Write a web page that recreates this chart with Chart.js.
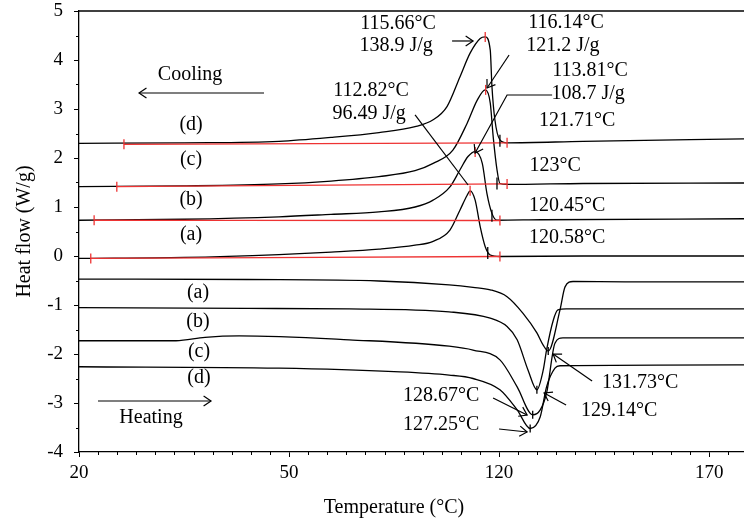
<!DOCTYPE html>
<html>
<head>
<meta charset="utf-8">
<script src="https://cdn.jsdelivr.net/npm/chart.js@4.4.1/dist/chart.umd.min.js"></script>
<style>
  body { margin: 0; background: #fff; }
</style>
</head>
<body>
<canvas id="dscChart" width="744" height="523"></canvas>
<script>
// [temperature °C, heat flow W/g]
const coolingA = [[20,-0.05],[45,-0.03],[67.6,0.03],[80,0.08],[91.4,0.14],[100,0.22],[104.3,0.30],[108.3,0.53],[110.7,0.94],[112.4,1.24],[113.1,1.33],[114.3,1.14],[115.5,0.60],[116.7,0.19],[117.9,0.02],[120.2,-0.01],[140,0.0],[178.3,0.0]];
const coolingB = [[20,0.73],[45,0.75],[67.6,0.80],[80,0.85],[91.4,0.90],[100,1.0],[104.3,1.14],[108.3,1.41],[110.7,1.76],[112.6,2.03],[114.3,2.13],[116.0,1.89],[117.1,1.28],[118.3,0.87],[119.5,0.73],[130,0.74],[178.3,0.76]];
const coolingC = [[20,1.415],[45,1.43],[67.6,1.47],[80,1.53],[91.4,1.62],[100,1.74],[104.3,1.89],[109.0,2.16],[112.4,2.71],[114.8,3.18],[116.7,3.39],[117.9,3.12],[118.6,2.43],[119.5,1.76],[120.2,1.48],[121.9,1.46],[140,1.48],[178.3,1.49]];
const coolingD = [[20,2.30],[45,2.31],[67.6,2.34],[80,2.42],[91.4,2.52],[100,2.64],[104.3,2.78],[107.6,3.05],[110.7,3.66],[113.1,4.14],[115.5,4.44],[116.7,4.47],[117.9,4.20],[118.3,3.46],[119.0,2.78],[120.2,2.37],[121.9,2.31],[140,2.34],[178.3,2.39]];

const heatingA = [[20,-0.47],[60,-0.48],[91.4,-0.51],[108.1,-0.59],[113.8,-0.64],[117.9,-0.69],[121.9,-0.83],[125.7,-1.17],[129,-1.57],[130.5,-1.82],[131.7,-1.94],[134.5,-1.10],[135.7,-0.63],[137.6,-0.52],[150,-0.53],[178.3,-0.53]];
const heatingB = [[20,-1.055],[60,-1.07],[84.3,-1.08],[108.1,-1.14],[117.9,-1.27],[121.9,-1.44],[124.3,-1.71],[126.9,-2.33],[129.0,-2.73],[130.5,-2.33],[131.3,-1.92],[132.9,-1.31],[134.0,-1.10],[136,-1.08],[178.3,-1.08]];
const heatingC = [[20,-1.73],[43.1,-1.73],[50,-1.66],[58.1,-1.63],[84.3,-1.71],[108.1,-1.84],[113.8,-1.92],[120.2,-2.12],[124.3,-2.67],[128.0,-3.24],[129.8,-3.14],[131.3,-2.80],[133.3,-1.78],[135.2,-1.67],[178.3,-1.67]];
const heatingD = [[20,-2.26],[67.6,-2.29],[95,-2.36],[108.1,-2.43],[113.8,-2.50],[120.2,-2.73],[124.3,-3.14],[127.4,-3.52],[129.8,-3.28],[131.3,-2.67],[133.3,-2.29],[134.5,-2.24],[178.3,-2.22]];

// integration baselines (red)
const baselineA = [[22.8,-0.05],[120.2,-0.01]];
const baselineB = [[23.6,0.73],[120.2,0.725]];
const baselineC = [[29.0,1.415],[121.9,1.47]];
const baselineD = [[30.7,2.28],[121.9,2.31]];
const peakTicks = [[113.1,1.33],[114.3,2.12],[116.8,3.39],[116.7,4.47]];
const endTicks = [[117.3,0.06],[118.3,0.82],[119.5,1.48],[120.2,2.35]];
const minTicks = [[131.7,-1.94],[129.0,-2.73],[128.0,-3.24],[127.4,-3.52]];

const xTickValues = [20, 70, 120, 170];
const xTickLabels = ['20', '50', '120', '170'];

// annotation texts: [text, T, W/g]
const labels = [
  ['115.66\u00b0C', 95.95, 4.735], ['138.9 J/g', 95.5, 4.286],
  ['116.14\u00b0C', 135.95, 4.755], ['121.2 J/g', 135.2, 4.286],
  ['113.81\u00b0C', 141.67, 3.776], ['108.7 J/g', 141.19, 3.306],
  ['121.71\u00b0C', 138.57, 2.755], ['123\u00b0C', 133.33, 1.837],
  ['120.45\u00b0C', 136.19, 1.02], ['120.58\u00b0C', 136.19, 0.367],
  ['112.82\u00b0C', 89.52, 3.367], ['96.49 J/g', 89.05, 2.898],
  ['Cooling', 46.43, 3.694],
  ['(d)', 46.67, 2.673], ['(c)', 46.67, 1.959], ['(b)', 46.67, 1.143], ['(a)', 46.67, 0.429],
  ['(a)', 48.33, -0.755], ['(b)', 48.33, -1.347], ['(c)', 48.57, -1.959], ['(d)', 48.57, -2.49],
  ['Heating', 37.14, -3.306],
  ['128.67\u00b0C', 106.19, -2.857], ['127.25\u00b0C', 106.19, -3.449],
  ['131.73\u00b0C', 153.57, -2.592], ['129.14\u00b0C', 148.57, -3.163]
];

// pointer lines: list of [T, W/g] vertices, last flag = arrow head at the end
const pointers = [
  [[[108.81,4.388],[113.81,4.388]], true],
  [[[122.38,4.102],[117.14,3.429]], true],
  [[[132.62,3.286],[121.9,3.286],[114.29,2.102]], true],
  [[[100,2.878],[112.62,1.449]], false],
  [[[64.05,3.327],[34.29,3.327]], true],
  [[[24.52,-2.959],[51.43,-2.959]], true],
  [[[118.57,-2.898],[126.67,-3.245]], true],
  [[[120,-3.531],[126.67,-3.592]], true],
  [[[142.14,-2.551],[132.86,-2.0]], true],
  [[[135.95,-3.041],[130.71,-2.796]], true]
];

const serif = '"Liberation Serif", "Times New Roman", serif';

function toXY(pairs) {
  return pairs.map(p => ({ x: p[0], y: p[1] }));
}

function curve(pairs, color, order) {
  return {
    data: toXY(pairs),
    showLine: true,
    borderColor: color,
    borderWidth: 1.3,
    pointRadius: 0,
    cubicInterpolationMode: 'monotone',
    order: order
  };
}

function ticks(pairs, color, radius) {
  return {
    data: toXY(pairs),
    showLine: false,
    pointStyle: 'line',
    rotation: 90,
    pointRadius: radius,
    pointBorderColor: color,
    pointBorderWidth: 1.3,
    order: 0
  };
}

const red = '#ee3333';

const decorations = {
  id: 'decorations',
  afterDraw(chart) {
    const { ctx, chartArea, scales: { x, y } } = chart;
    ctx.save();
    ctx.strokeStyle = '#000';
    ctx.lineWidth = 1;

    // minor ticks
    ctx.beginPath();
    for (let i = 1; 20 + i * 50 / 11 <= x.max; i++) {
      if (i % 11 === 0) continue;
      const px = Math.round(x.getPixelForValue(20 + i * 50 / 11)) + 0.5;
      ctx.moveTo(px, chartArea.bottom);
      ctx.lineTo(px, chartArea.bottom + 3);
    }
    for (let v = -3.5; v < 5; v += 1) {
      const py = Math.round(y.getPixelForValue(v)) + 0.5;
      ctx.moveTo(chartArea.left, py);
      ctx.lineTo(chartArea.left - 3, py);
    }
    ctx.stroke();

    // top frame
    ctx.lineWidth = 1.3;
    ctx.beginPath();
    ctx.moveTo(chartArea.left, chartArea.top);
    ctx.lineTo(chartArea.right, chartArea.top);
    ctx.stroke();

    // pointers
    ctx.lineWidth = 1.2;
    pointers.forEach(([pts, head]) => {
      const p = pts.map(q => [x.getPixelForValue(q[0]), y.getPixelForValue(q[1])]);
      ctx.beginPath();
      ctx.moveTo(p[0][0], p[0][1]);
      p.slice(1).forEach(q => ctx.lineTo(q[0], q[1]));
      ctx.stroke();
      if (head) {
        const a = p[p.length - 2], b = p[p.length - 1];
        const ang = Math.atan2(b[1] - a[1], b[0] - a[0]);
        const len = 9, spread = 0.6;
        ctx.beginPath();
        ctx.moveTo(b[0] - len * Math.cos(ang - spread), b[1] - len * Math.sin(ang - spread));
        ctx.lineTo(b[0], b[1]);
        ctx.lineTo(b[0] - len * Math.cos(ang + spread), b[1] - len * Math.sin(ang + spread));
        ctx.stroke();
      }
    });

    // texts
    ctx.fillStyle = '#000';
    ctx.font = '20px ' + serif;
    ctx.textAlign = 'center';
    ctx.textBaseline = 'middle';
    labels.forEach(([t, tx, ty]) => {
      ctx.fillText(t, x.getPixelForValue(tx), y.getPixelForValue(ty));
    });

    // x axis title
    ctx.fillText('Temperature (\u00b0C)', 394, chartArea.bottom + 56);
    ctx.restore();
  }
};

new Chart(document.getElementById('dscChart'), {
  type: 'scatter',
  data: {
    datasets: [
      curve(coolingA, '#000', 2), curve(coolingB, '#000', 2),
      curve(coolingC, '#000', 2), curve(coolingD, '#000', 2),
      curve(heatingA, '#000', 2), curve(heatingB, '#000', 2),
      curve(heatingC, '#000', 2), curve(heatingD, '#000', 2),
      curve(baselineA, red, 1), curve(baselineB, red, 1),
      curve(baselineC, red, 1), curve(baselineD, red, 1),
      ticks(baselineA.concat(baselineB, baselineC, baselineD, peakTicks), red, 5),
      ticks(endTicks, '#000', 6),
      ticks(minTicks, '#000', 4)
    ]
  },
  options: {
    responsive: false,
    animation: false,
    layout: { autoPadding: false, padding: 0 },
    plugins: { legend: { display: false }, tooltip: { enabled: false } },
    scales: {
      x: {
        type: 'linear',
        min: 20,
        max: 178.3,
        afterBuildTicks: scale => { scale.ticks = xTickValues.map(v => ({ value: v })); },
        afterFit: scale => { scale.height = 71; },
        ticks: {
          autoSkip: false,
          maxRotation: 0,
          padding: 5,
          color: '#000',
          font: { family: serif, size: 19 },
          callback: v => xTickLabels[xTickValues.indexOf(v)]
        },
        grid: { drawOnChartArea: false, tickLength: 5, color: '#000', lineWidth: 1 },
        border: { color: '#000', width: 1.3 }
      },
      y: {
        min: -4,
        max: 5,
        afterFit: scale => {
          scale.width = 79;
          scale.paddingTop = 11;
          scale.paddingBottom = 0;
        },
        ticks: {
          stepSize: 1,
          padding: 11,
          color: '#000',
          font: { family: serif, size: 19 }
        },
        grid: { drawOnChartArea: false, tickLength: 5, color: '#000', lineWidth: 1 },
        border: { color: '#000', width: 1.3 },
        title: {
          display: true,
          text: 'Heat flow (W/g)',
          color: '#000',
          font: { family: serif, size: 20 },
          padding: { top: 13, bottom: 0 }
        }
      }
    }
  },
  plugins: [decorations]
});
</script>
</body>
</html>
